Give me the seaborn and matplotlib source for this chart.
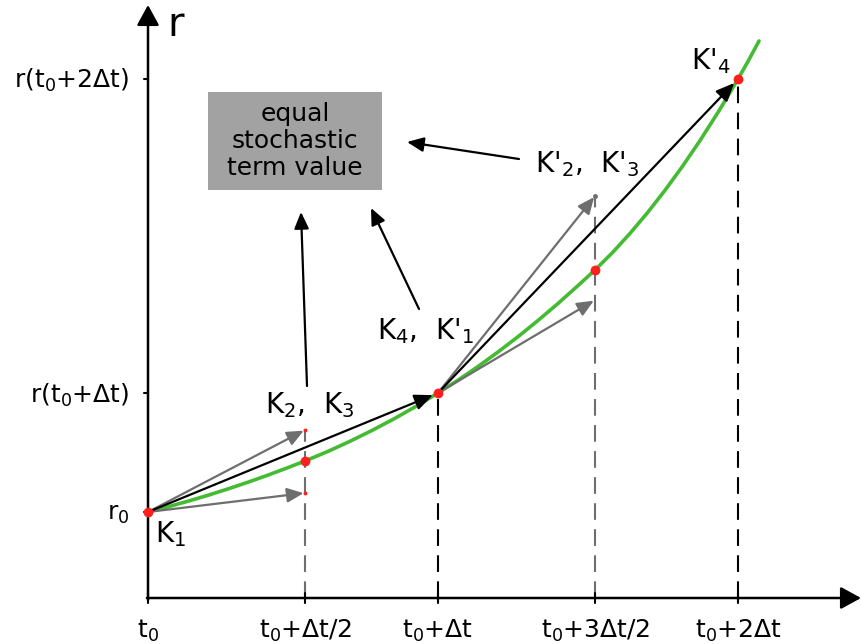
import matplotlib
matplotlib.use("Agg")
import matplotlib.pyplot as plt
from matplotlib.patches import Rectangle
import seaborn as sns

# Solution path r(t)
curve_t = [0.00, 0.20, 0.40, 0.60, 0.80, 1.00, 1.20, 1.40, 1.57, 1.795, 2.02,
           2.245, 2.47, 2.695, 2.90, 3.10, 3.30, 3.50, 3.70, 3.90, 4.10, 4.30,
           4.47, 4.645, 4.82, 4.995, 5.17, 5.345, 5.52, 5.71, 5.90, 6.00, 6.11]
curve_r = [0.860, 0.912, 0.968, 1.027, 1.091, 1.158, 1.229, 1.304, 1.370,
           1.464, 1.567, 1.678, 1.797, 1.925, 2.050, 2.178, 2.315, 2.460,
           2.613, 2.775, 2.945, 3.124, 3.280, 3.454, 3.646, 3.853, 4.077,
           4.317, 4.574, 4.872, 5.190, 5.366, 5.570]

# Points evaluated on the path
node_t = [0.00, 1.57, 2.90, 4.47, 5.90]
node_r = [0.86, 1.37, 2.05, 3.28, 5.19]

# Axis ticks and labels
t_ticks = [0.00, 1.57, 2.90, 4.47, 5.90]
t_labels = ["t$_0$", "t$_0$+Δt/2", "t$_0$+Δt", "t$_0$+3Δt/2", "t$_0$+2Δt"]
r_ticks = [0.86, 2.05, 5.19]
r_labels = ["r$_0$", "r(t$_0$+Δt)", "r(t$_0$+2Δt)"]

# Slope estimates: (start t, start r, end t, end r)
full_steps = [(0.00, 0.86, 2.90, 2.05), (2.90, 2.05, 5.90, 5.19)]
half_steps = [(0.00, 0.86, 1.57, 1.68), (0.00, 0.86, 1.57, 1.05),
              (2.90, 2.05, 4.47, 4.02), (2.90, 2.05, 4.47, 2.98)]
half_tips_t = [1.57, 1.57]
half_tips_r = [1.68, 1.05]

# Stage labels
k_text = ["K$_1$", "K$_2$,  K$_3$", "K$_4$,  K'$_1$", "K'$_2$,  K'$_3$", "K'$_4$"]
k_t = [0.07, 1.17, 2.29, 3.87, 5.43]
k_r = [0.56, 1.85, 2.59, 4.26, 5.29]

# Pointers to the note box: (tail t, tail r, head t, head r)
pointers = [(1.59, 2.12, 1.53, 3.86), (2.71, 2.89, 2.23, 3.90),
            (3.71, 4.39, 2.59, 4.56)]
note = "equal\nstochastic\nterm value"

GREEN = "#44bb33"
RED = "#ff1f1f"
GREY = "#6e6e6e"

sns.set_style("white")
plt.rcParams["font.family"] = ["DejaVu Sans"]
plt.rcParams["text.color"] = "black"
plt.rcParams["mathtext.fontset"] = "dejavusans"
plt.rcParams["mathtext.default"] = "regular"

fig = plt.figure(figsize=(8.61, 6.44), dpi=100)
ax = fig.add_axes([0, 0, 1, 1])
ax.set_xlim(-1.48, 7.13)
ax.set_ylim(-0.46, 5.98)
ax.axis("off")

# Vertical guides at the evaluation times
guide_tops = [1.68, 2.05, 4.02, 5.19]
guide_cols = [GREY, "black", GREY, "black"]
for t, top, c in zip(t_ticks[1:], guide_tops, guide_cols):
    ax.plot([t, t], [0, top], color=c, lw=1.5, dashes=(8, 4.5), zorder=1)

# Axes with arrow heads
axis_style = dict(arrowstyle="-|>,head_length=0.62,head_width=0.34",
                  mutation_scale=20, lw=1.8, color="black",
                  shrinkA=0, shrinkB=0)
ax.annotate("", xy=(0, 5.93), xytext=(0, -0.02), arrowprops=axis_style, zorder=2)
ax.annotate("", xy=(7.13, 0), xytext=(-0.01, 0), arrowprops=axis_style, zorder=2)
ax.text(0.19, 5.62, "r", fontsize=29, ha="left", va="baseline")

# Tick marks and labels
for t, lab in zip(t_ticks, t_labels):
    ax.plot([t, t], [-0.05, 0.05], color="black", lw=1.5, zorder=2)
    ax.text(t, -0.40, lab, fontsize=18, ha="center", va="baseline")
r_base = [0.78, 1.95, 5.10]
for r, lab, b in zip(r_ticks, r_labels, r_base):
    ax.plot([-0.04, 0], [r, r], color="black", lw=1.5, zorder=2)
    ax.text(-0.19, b, lab, fontsize=18, ha="right", va="baseline")

# Path and its nodes
sns.lineplot(x=curve_t, y=curve_r, color=GREEN, lw=2.6, ax=ax, zorder=3,
             sort=False, solid_joinstyle="round", solid_capstyle="round")

# Half-step slope estimates
grey_style = dict(arrowstyle="-|>,head_length=0.5,head_width=0.22",
                  mutation_scale=20, lw=1.6, color=GREY,
                  shrinkA=0, shrinkB=1)
for t0, r0, t1, r1 in half_steps:
    ax.annotate("", xy=(t1, r1), xytext=(t0, r0), arrowprops=grey_style, zorder=4)
sns.scatterplot(x=half_tips_t, y=half_tips_r, color=RED, s=8, linewidth=0,
                ax=ax, zorder=5)
ax.plot([4.47], [4.02], "o", color=GREY, ms=2.5, zorder=5)

# Full-step slope estimates
black_style = dict(arrowstyle="-|>,head_length=0.55,head_width=0.24",
                   mutation_scale=20, lw=1.6, color="black",
                   shrinkA=0, shrinkB=4)
for t0, r0, t1, r1 in full_steps:
    ax.annotate("", xy=(t1, r1), xytext=(t0, r0), arrowprops=black_style, zorder=4)

sns.scatterplot(x=node_t, y=node_r, color=RED, s=50, linewidth=0, ax=ax,
                zorder=6)

# Stage labels
for txt, t, r in zip(k_text, k_t, k_r):
    ax.text(t, r, txt, fontsize=20, ha="left", va="baseline")

# Note box
ax.add_patch(Rectangle((0.60, 4.08), 1.74, 0.98, facecolor="#a2a2a2",
                       edgecolor="none", zorder=2))
ax.text(1.47, 4.57, note, fontsize=18, ha="center", va="center",
        linespacing=1.15, zorder=3)

ptr_style = dict(arrowstyle="-|>,head_length=0.5,head_width=0.22",
                 mutation_scale=20, lw=1.6, color="black",
                 shrinkA=0, shrinkB=0)
for t0, r0, t1, r1 in pointers:
    ax.annotate("", xy=(t1, r1), xytext=(t0, r0), arrowprops=ptr_style, zorder=4)

fig.savefig("out.png", dpi=100)
